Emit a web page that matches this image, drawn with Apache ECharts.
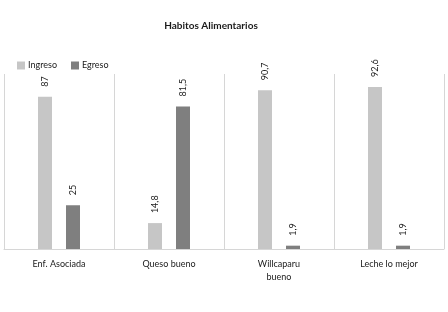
<!DOCTYPE html>
<html>
<head>
<meta charset="utf-8">
<script src="https://cdn.jsdelivr.net/npm/echarts@6/dist/echarts.min.js"></script>
<style>
html, body { margin: 0; padding: 0; background: #fff; }
#container { width: 448px; height: 312px; }
</style>
</head>
<body>
<div id="container"></div>
<script>
var categorias = ['Enf. Asociada', 'Queso bueno', 'Willcaparu\nbueno', 'Leche lo mejor'];
var ingreso = [87, 14.8, 90.7, 92.6];
var egreso = [25, 81.5, 1.9, 1.9];

var dom = document.getElementById("container");
var myChart = echarts.init(dom);

// etiquetas verticales con coma decimal
var etiqueta = {
    show: true,
    position: 'top',
    rotate: 90,
    align: 'left',
    verticalAlign: 'middle',
    distance: 10,
    fontFamily: 'Lato',
    fontSize: 9,
    color: '#1a1a1a',
    formatter: function (p) {
        return String(p.value).replace('.', ',');
    }
};

var option = {
    backgroundColor: '#fff',
    title: {
        text: 'Habitos Alimentarios',
        left: 206,
        textAlign: 'center',
        top: 16,
        textStyle: { fontFamily: 'Lato', fontSize: 10, fontWeight: 'bold', color: '#1a1a1a' }
    },
    legend: {
        data: ['Ingreso', 'Egreso'],
        left: 12,
        top: 56,
        itemWidth: 8,
        itemHeight: 8,
        itemGap: 14,
        icon: 'rect',
        textStyle: { fontFamily: 'Lato', fontSize: 9, color: '#1a1a1a', padding: [0, 0, 0, -2] }
    },
    grid: {
        left: 4,
        right: 4,
        top: 74,
        bottom: 63
    },
    xAxis: {
        type: 'category',
        data: categorias,
        axisLine: { lineStyle: { color: '#d6d6d6' } },
        axisTick: { show: false },
        splitLine: { show: true, lineStyle: { color: '#d6d6d6' } },
        axisLabel: { fontFamily: 'Lato', fontSize: 9, color: '#1a1a1a', margin: 9, lineHeight: 13 }
    },
    yAxis: {
        type: 'value',
        min: 0,
        max: 100,
        show: false
    },
    series: [{
        name: 'Ingreso',
        type: 'bar',
        data: ingreso,
        barWidth: 14,
        barGap: '100%',
        itemStyle: { color: '#c6c6c6' },
        label: etiqueta
    }, {
        name: 'Egreso',
        type: 'bar',
        data: egreso,
        barWidth: 14,
        itemStyle: { color: '#7f7f7f' },
        label: etiqueta
    }]
};
myChart.setOption(option, true);
</script>
</body>
</html>
